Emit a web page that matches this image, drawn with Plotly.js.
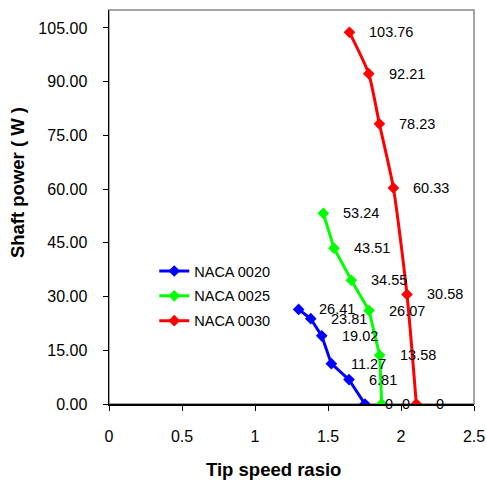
<!DOCTYPE html>
<html>
<head>
<meta charset="utf-8">
<script src="https://cdn.plot.ly/plotly-3.0.1.min.js"></script>
<style>html,body{margin:0;padding:0;background:#fff;}#chart{width:486px;height:484px;}</style>
</head>
<body>
<div id="chart"></div>
<script>
// Data
const seriesNames = ["NACA 0020", "NACA 0025", "NACA 0030"];
const tsr0020 = [1.299, 1.382, 1.457, 1.523, 1.644, 1.753];
const pow0020 = [26.41, 23.81, 19.02, 11.27, 6.81, 0];
const tsr0025 = [1.468, 1.541, 1.660, 1.781, 1.854, 1.868];
const pow0025 = [53.24, 43.51, 34.55, 26.07, 13.58, 0];
const tsr0030 = [1.647, 1.779, 1.852, 1.948, 2.041, 2.105];
const pow0030 = [103.76, 92.21, 78.23, 60.33, 30.58, 0];
const xTitle = "Tip speed rasio";
const yTitle = "Shaft power ( W )";
const colors = ["#0000FF", "#00FF00", "#FF0000"];
const shapesLine = ["linear", "linear", "spline"];

const xs = [tsr0020, tsr0025, tsr0030];
const ys = [pow0020, pow0025, pow0030];
const FONT = "Arial, 'Liberation Sans', sans-serif";

const traces = xs.map((x, i) => ({
  x: x, y: ys[i], name: seriesNames[i], type: "scatter", mode: "lines+markers",
  legendgroup: "g" + i,
  line: {color: colors[i], width: 3, shape: shapesLine[i], smoothing: 0.6},
  marker: {symbol: "diamond", size: 9, color: colors[i]}
}));

const annotations = [];
xs.forEach((x, i) => {
  x.forEach((xv, j) => {
    annotations.push({
      x: xv, y: ys[i][j], xref: "x", yref: "y", text: String(ys[i][j]),
      showarrow: false, xanchor: "left", yanchor: "middle", xshift: 18,
      font: {family: FONT, size: 14.5, color: "#000"}
    });
  });
});
annotations.push({
  xref: "paper", yref: "paper", x: 0.452, y: -0.1675, xanchor: "center", yanchor: "middle",
  text: "<b>" + xTitle + "</b>", showarrow: false, font: {family: FONT, size: 18.5, color: "#000"}
});
annotations.push({
  xref: "paper", yref: "paper", x: -0.249, y: 0.561, xanchor: "center", yanchor: "middle",
  textangle: -90, text: "<b>" + yTitle + "</b>", showarrow: false,
  font: {family: FONT, size: 18.5, color: "#000"}
});

const layout = {
  width: 486, height: 484,
  margin: {l: 109, r: 12, t: 10, b: 80},
  paper_bgcolor: "#fff", plot_bgcolor: "#fff",
  font: {family: FONT, size: 13, color: "#000"},
  showlegend: true,
  legend: {x: 0.124, y: 0.378, xanchor: "left", yanchor: "top",
    traceorder: "grouped", tracegroupgap: 3,
    font: {family: FONT, size: 14.5, color: "#000"}, bgcolor: "rgba(0,0,0,0)"},
  xaxis: {
    range: [0, 2.5], dtick: 0.5, tick0: 0, showgrid: false, zeroline: false,
    showline: true, linecolor: "#000", linewidth: 1.5,
    ticks: "outside", ticklen: 5, tickcolor: "#000", ticklabelstandoff: 12,
    tickfont: {family: FONT, size: 16, color: "#000"}
  },
  yaxis: {
    range: [0, 110], dtick: 15, tick0: 0, tickformat: ".2f", showgrid: false, zeroline: false,
    showline: true, linecolor: "#000", linewidth: 1.5,
    ticks: "outside", ticklen: 5, tickcolor: "#000", ticklabelstandoff: 12,
    tickfont: {family: FONT, size: 16, color: "#000"}
  },
  shapes: [{type: "rect", xref: "paper", yref: "paper", x0: 0, x1: 1, y0: 0, y1: 1,
    line: {color: "#888", width: 1.5}, layer: "below"}],
  annotations: annotations
};

Plotly.newPlot("chart", traces, layout, {displayModeBar: false, staticPlot: true});
</script>
</body>
</html>
